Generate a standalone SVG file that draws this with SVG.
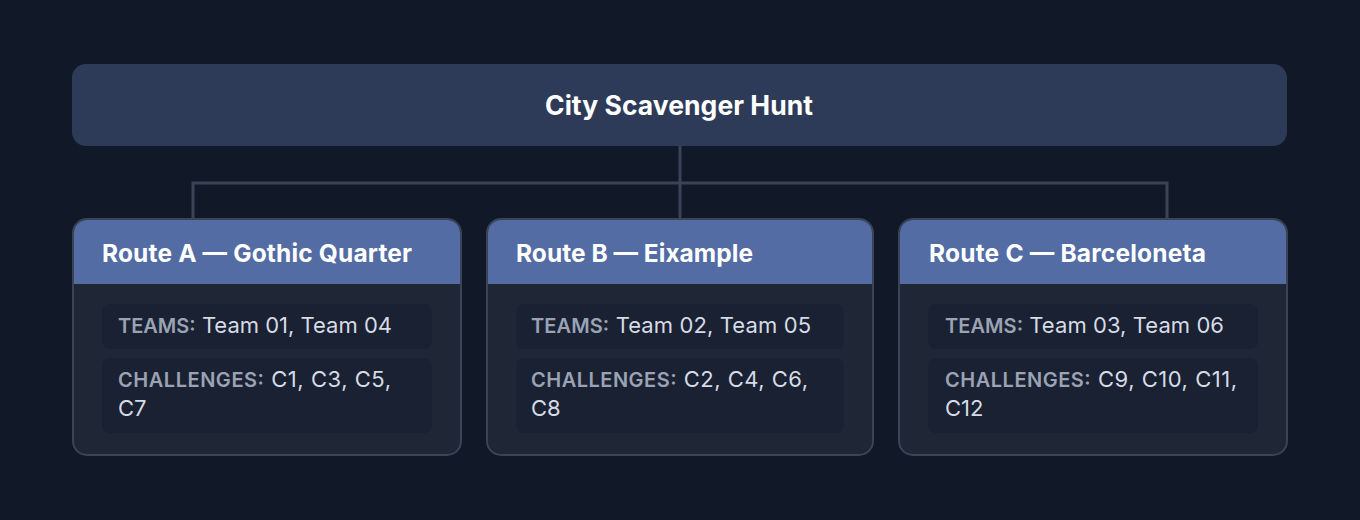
<svg xmlns="http://www.w3.org/2000/svg" width="1360" height="520" viewBox="0 0 1360 520">
<style>
.bg{fill:#111827}
.root{fill:#2e3b58}
.card{fill:#1f2635;stroke:#3a4456;stroke-width:2}
.hdr{fill:#536ca4}
.row{fill:#1a2133}
.conn{fill:none;stroke:#3a4456;stroke-width:3}
.title{font-family:Inter,"Noto Sans",sans-serif;font-weight:700;font-size:26.5px;fill:#ffffff}
.htxt{font-family:Inter,"Noto Sans",sans-serif;font-weight:700;font-size:24.5px;fill:#ffffff}
.val{font-family:Inter,"Noto Sans",sans-serif;font-weight:400;font-size:22px;fill:#d6dbe4}
.lbl{font-weight:600;font-size:20px;fill:#9aa3b3}
</style>
<rect class="bg" x="0" y="0" width="1360" height="520"/>
<g id="connectors">
<path class="conn" d="M680 146 V183 M193 219 V183 H1167 V219 M680 183 V219"/>
</g>
<g id="root">
<rect class="root" x="72" y="64" width="1215" height="82" rx="14"/>
<text class="title" x="545" y="115" textLength="268">City Scavenger Hunt</text>
</g>
<g id="routeA">
<rect class="card" x="73" y="219" width="388" height="236" rx="14"/>
<path class="hdr" d="M74 284 V233 A13 13 0 0 1 87 220 H447 A13 13 0 0 1 460 233 V284 Z"/>
<text class="htxt" x="102" y="262" textLength="310">Route A — Gothic Quarter</text>
<rect class="row" x="102" y="304" width="330" height="45" rx="8"/>
<text class="val" x="118" y="333" textLength="274"><tspan class="lbl">TEAMS:</tspan> Team 01, Team 04</text>
<rect class="row" x="102" y="358" width="330" height="75" rx="8"/>
<text class="val" x="118" y="387" textLength="273"><tspan class="lbl">CHALLENGES:</tspan> C1, C3, C5,</text>
<text class="val" x="118" y="416">C7</text>
</g>
<g id="routeB">
<rect class="card" x="487" y="219" width="386" height="236" rx="14"/>
<path class="hdr" d="M488 284 V233 A13 13 0 0 1 501 220 H859 A13 13 0 0 1 872 233 V284 Z"/>
<text class="htxt" x="516" y="262" textLength="237">Route B — Eixample</text>
<rect class="row" x="516" y="304" width="328" height="45" rx="8"/>
<text class="val" x="531" y="333" textLength="280"><tspan class="lbl">TEAMS:</tspan> Team 02, Team 05</text>
<rect class="row" x="516" y="358" width="328" height="75" rx="8"/>
<text class="val" x="531" y="387" textLength="277"><tspan class="lbl">CHALLENGES:</tspan> C2, C4, C6,</text>
<text class="val" x="531" y="416">C8</text>
</g>
<g id="routeC">
<rect class="card" x="899" y="219" width="388" height="236" rx="14"/>
<path class="hdr" d="M900 284 V233 A13 13 0 0 1 913 220 H1273 A13 13 0 0 1 1286 233 V284 Z"/>
<text class="htxt" x="929" y="262" textLength="277">Route C — Barceloneta</text>
<rect class="row" x="928" y="304" width="330" height="45" rx="8"/>
<text class="val" x="945" y="333" textLength="279"><tspan class="lbl">TEAMS:</tspan> Team 03, Team 06</text>
<rect class="row" x="928" y="358" width="330" height="75" rx="8"/>
<text class="val" x="945" y="387" textLength="292"><tspan class="lbl">CHALLENGES:</tspan> C9, C10, C11,</text>
<text class="val" x="945" y="416">C12</text>
</g>
</svg>
